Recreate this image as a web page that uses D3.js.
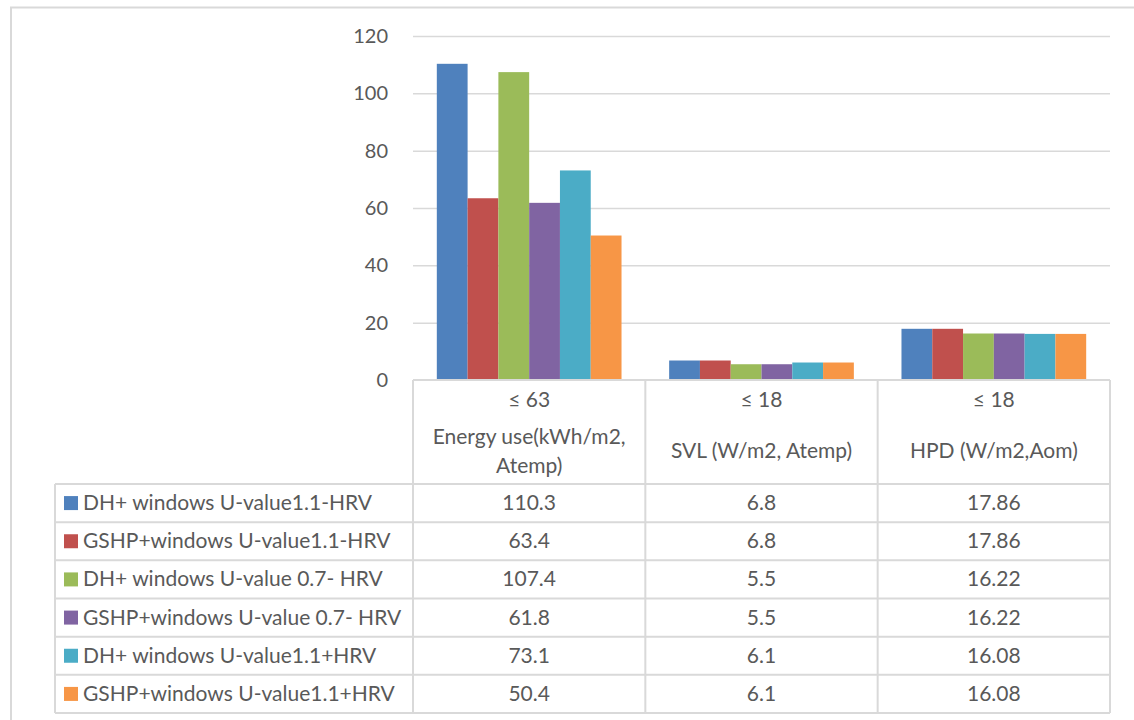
<!DOCTYPE html>
<html>
<head>
<meta charset="utf-8">
<script src="https://cdn.jsdelivr.net/npm/d3@7"></script>
<style>
  html, body { margin: 0; padding: 0; background: #fff; }
  svg { display: block; }
  text { font-family: Lato, "Open Sans", sans-serif; fill: #595959; }
</style>
</head>
<body>
<svg id="chart" width="1134" height="720"></svg>
<script>
// Categories (thresholds and metric names)
const thresholds = ["≤ 63", "≤ 18", "≤ 18"];
const categories = [
  ["Energy use(kWh/m2,", "Atemp)"],
  ["SVL (W/m2, Atemp)"],
  ["HPD (W/m2,Aom)"]
];

// Series names
const seriesNames = [
  "DH+ windows U-value1.1-HRV",
  "GSHP+windows U-value1.1-HRV",
  "DH+ windows U-value 0.7- HRV",
  "GSHP+windows U-value 0.7- HRV",
  "DH+ windows U-value1.1+HRV",
  "GSHP+windows U-value1.1+HRV"
];

// Values per series, one per category
const dhU11NoHrv   = [110.3, 6.8, 17.86];
const gshpU11NoHrv = [63.4, 6.8, 17.86];
const dhU07NoHrv   = [107.4, 5.5, 16.22];
const gshpU07NoHrv = [61.8, 5.5, 16.22];
const dhU11Hrv     = [73.1, 6.1, 16.08];
const gshpU11Hrv   = [50.4, 6.1, 16.08];

// Y axis tick values
const yTicks = [0, 20, 40, 60, 80, 100, 120];

const seriesValues = [dhU11NoHrv, gshpU11NoHrv, dhU07NoHrv, gshpU07NoHrv, dhU11Hrv, gshpU11Hrv];
const colors = ["#4F81BD", "#C0504D", "#9BBB59", "#8064A2", "#4BACC6", "#F79646"];

const svg = d3.select("#chart");
const gridColor = "#d9d9d9";
const fontSize = 21;

// Outer chart frame
svg.append("path")
  .attr("d", "M11,720 L11,7.5 L1134,7.5")
  .attr("fill", "none").attr("stroke", gridColor).attr("stroke-width", 2);

// Plot geometry
const plotLeft = 413, plotRight = 1110, plotTop = 36, plotBottom = 380;
const legendLeft = 55;

const y = d3.scaleLinear().domain([0, 120]).range([plotBottom, plotTop]);
const x0 = d3.scaleBand().domain(d3.range(categories.length)).range([plotLeft, plotRight]).padding(0);
const gap = x0.bandwidth() * 0.205;
const x1 = d3.scaleBand().domain(d3.range(seriesNames.length))
  .range([gap / 2, x0.bandwidth() - gap / 2]).padding(0);

// Gridlines and y tick labels
const yAxis = d3.axisLeft(y).tickValues(yTicks).tickSize(-(plotRight - plotLeft)).tickPadding(25).tickFormat(d3.format("d"));
const gy = svg.append("g").attr("transform", `translate(${plotLeft},0)`).call(yAxis);
gy.select(".domain").remove();
gy.selectAll(".tick line").attr("stroke", gridColor).attr("stroke-width", 1.5)
  .filter(d => d === 0).remove();
gy.selectAll(".tick text").attr("font-size", 20).attr("fill", "#595959")
  .style("font-family", "Lato, 'Open Sans', sans-serif");

// Bars
const groups = svg.append("g").selectAll("g")
  .data(categories.map((c, i) => i))
  .join("g")
  .attr("transform", i => `translate(${x0(i)},0)`);

groups.selectAll("rect")
  .data(i => seriesValues.map((vals, s) => ({ s, v: vals[i] })))
  .join("rect")
  .attr("x", d => x1(d.s))
  .attr("width", x1.bandwidth())
  .attr("y", d => y(d.v))
  .attr("height", d => y(0) - y(d.v))
  .attr("fill", d => colors[d.s]);

// Data table
const headerBottom = 484;
const rowH = (713 - headerBottom) / seriesNames.length;
const tableBottom = headerBottom + rowH * seriesNames.length;
const table = svg.append("g").attr("stroke", gridColor).attr("stroke-width", 2).attr("fill", "none");

// horizontal lines
table.append("line").attr("x1", plotLeft).attr("x2", plotRight).attr("y1", plotBottom).attr("y2", plotBottom);
for (let r = 0; r <= seriesNames.length; r++) {
  const yy = headerBottom + r * rowH;
  table.append("line").attr("x1", legendLeft).attr("x2", plotRight).attr("y1", yy).attr("y2", yy);
}
// vertical lines
table.append("line").attr("x1", legendLeft).attr("x2", legendLeft).attr("y1", headerBottom).attr("y2", tableBottom);
for (let c = 0; c <= categories.length; c++) {
  const xx = plotLeft + c * x0.bandwidth();
  table.append("line").attr("x1", xx).attr("x2", xx).attr("y1", plotBottom).attr("y2", tableBottom);
}

// Header cells
const header = svg.append("g").attr("text-anchor", "middle").attr("font-size", fontSize);
categories.forEach((lines, i) => {
  const cx = x0(i) + x0.bandwidth() / 2;
  header.append("text").attr("x", cx).attr("y", 407).text(thresholds[i]);
  const lh = 29;
  const blockCenter = 451;
  lines.forEach((ln, k) => {
    const yy = blockCenter + (k - (lines.length - 1) / 2) * lh + 7;
    header.append("text").attr("x", cx).attr("y", yy).text(ln);
  });
});

// Legend rows and values
const rows = svg.append("g").attr("font-size", fontSize);
seriesNames.forEach((name, s) => {
  const cy = headerBottom + rowH * (s + 0.5);
  rows.append("rect").attr("x", 64).attr("y", cy - 7).attr("width", 14).attr("height", 14).attr("fill", colors[s]);
  rows.append("text").attr("x", 83).attr("y", cy + 7).text(name);
  seriesValues[s].forEach((v, i) => {
    rows.append("text").attr("x", x0(i) + x0.bandwidth() / 2).attr("y", cy + 7)
      .attr("text-anchor", "middle").text(String(v));
  });
});
</script>
</body>
</html>
